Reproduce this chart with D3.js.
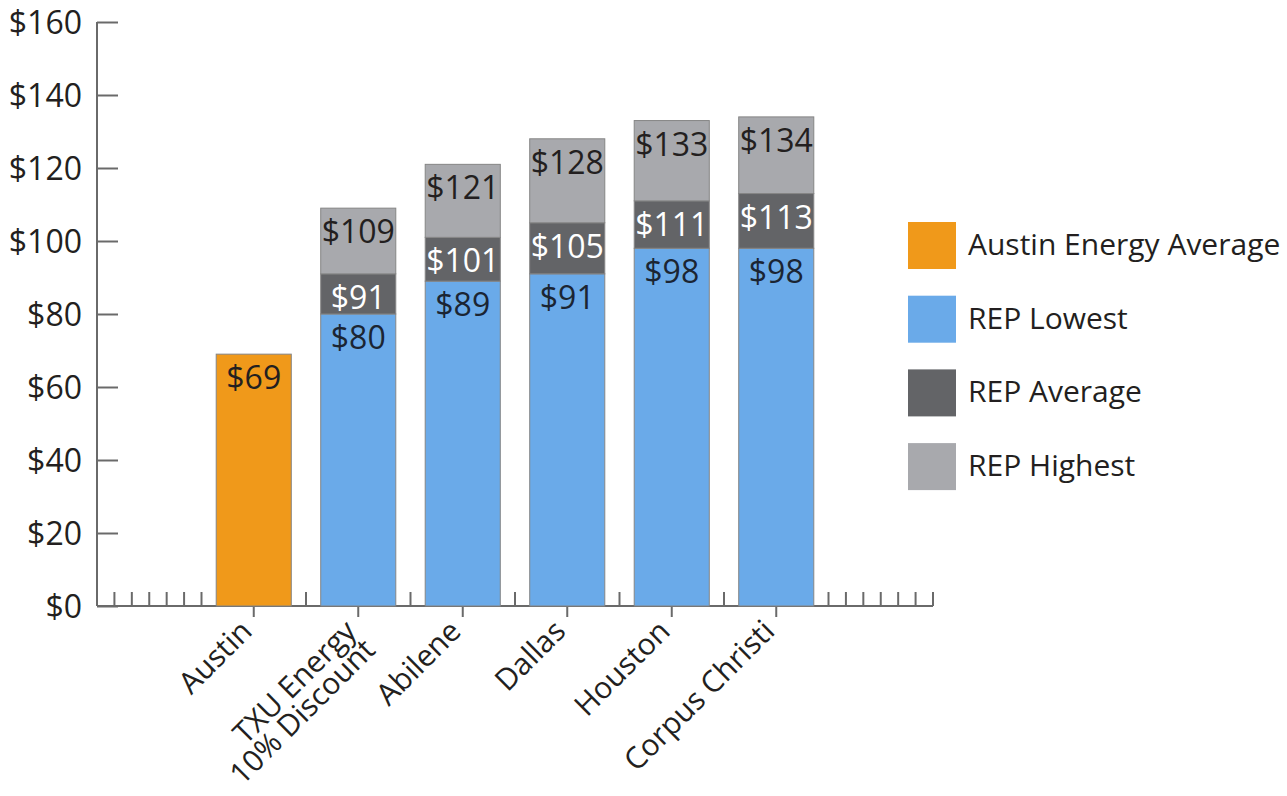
<!DOCTYPE html>
<html>
<head>
<meta charset="utf-8">
<script src="https://cdn.jsdelivr.net/npm/d3@7"></script>
<style>
  html, body { margin: 0; padding: 0; background: #fff; }
  svg { display: block; font-family: "Open Sans", "Noto Sans", sans-serif; }
</style>
</head>
<body>
<svg id="chart" width="1287" height="796"></svg>
<script>
// ---- data ----
const categories = ["Austin", "TXU Energy|10% Discount", "Abilene", "Dallas", "Houston", "Corpus Christi"];
const austinEnergyAverage = [69, null, null, null, null, null];
const repLowest  = [null, 80, 89, 91, 98, 98];
const repAverage = [null, 91, 101, 105, 111, 113];
const repHighest = [null, 109, 121, 128, 133, 134];
const yTicks = [0, 20, 40, 60, 80, 100, 120, 140, 160];
const legendLabels = ["Austin Energy Average", "REP Lowest", "REP Average", "REP Highest"];

// ---- styles ----
const colors = {
  austin: "#F0991A",
  low: "#6AAAE9",
  avg: "#636467",
  high: "#A8A9AD"
};
const legendColors = [colors.austin, colors.low, colors.avg, colors.high];
const axisColor = "#6a6a6a";
const textColor = "#231f20";

const svg = d3.select("#chart");

// ---- scales ----
const slot = d3.scaleLinear().domain([0, 48]).range([97, 933]);   // minor-tick grid on x axis
const x = d3.scaleBand().domain(categories)
  .range([slot(6), slot(42)])
  .paddingInner(0.2816).paddingOuter(0.1408);
const y = d3.scaleLinear().domain([0, 160]).range([606, 22]);

// ---- axes ----
// minor ticks on x axis (pointing up)
svg.append("g").selectAll("line").data(d3.range(1, 49)).join("line")
  .attr("x1", d => slot(d)).attr("x2", d => slot(d))
  .attr("y1", y(0)).attr("y2", y(0) - 14)
  .attr("stroke", axisColor).attr("stroke-width", 2);

// y axis
const yAxis = d3.axisRight(y).tickValues(yTicks).tickSize(21).tickFormat(() => "");
const gy = svg.append("g").attr("transform", `translate(${slot(0)},0)`).call(yAxis);
gy.select(".domain").attr("stroke", axisColor).attr("stroke-width", 2).attr("d", `M0,${y(160)}V${y(0)}`);
gy.selectAll(".tick line").attr("stroke", axisColor).attr("stroke-width", 2);
svg.append("g").selectAll("text").data(yTicks).join("text")
  .attr("x", 82).attr("y", d => y(d)).attr("dy", "0.36em")
  .attr("text-anchor", "end")
  .attr("font-size", 32).attr("fill", textColor)
  .text(d => "$" + d);

// x axis
const xAxis = d3.axisBottom(x).tickSize(11).tickFormat(() => "");
const gx = svg.append("g").attr("transform", `translate(0,${y(0)})`).call(xAxis);
gx.select(".domain").attr("stroke", axisColor).attr("stroke-width", 2).attr("d", `M${slot(0)},0H${slot(48)}`);
gx.selectAll(".tick line").attr("stroke", axisColor).attr("stroke-width", 2);

// x labels rotated
const xl = svg.append("g").selectAll("text").data(categories).join("text")
  .attr("transform", d => `translate(${x(d) + x.bandwidth() / 2},${y(0) + 27}) rotate(-45)`)
  .attr("text-anchor", "end")
  .attr("font-size", 30).attr("fill", textColor);
xl.each(function(d) {
  const lines = d.split("|");
  d3.select(this).selectAll("tspan").data(lines).join("tspan")
    .attr("x", 0).attr("dy", (l, i) => i === 0 ? 0 : "0.88em")
    .text(l => l);
});

// ---- bars ----
const bars = svg.append("g");
const segs = [];
categories.forEach((c, i) => {
  if (austinEnergyAverage[i] != null) segs.push({c, y0: 0, y1: austinEnergyAverage[i], fill: colors.austin, label: austinEnergyAverage[i], tc: textColor});
  if (repLowest[i] != null) {
    segs.push({c, y0: 0, y1: repLowest[i], fill: colors.low, label: repLowest[i], tc: "#1b2533"});
    segs.push({c, y0: repLowest[i], y1: repAverage[i], fill: colors.avg, label: repAverage[i], tc: "#ffffff"});
    segs.push({c, y0: repAverage[i], y1: repHighest[i], fill: colors.high, label: repHighest[i], tc: textColor});
  }
});
bars.selectAll("rect").data(segs).join("rect")
  .attr("x", d => x(d.c)).attr("width", x.bandwidth())
  .attr("y", d => y(d.y1)).attr("height", d => y(d.y0) - y(d.y1))
  .attr("fill", d => d.fill)
  .attr("stroke", "#858585").attr("stroke-width", 1);
bars.selectAll("text").data(segs).join("text")
  .attr("x", d => x(d.c) + x.bandwidth() / 2)
  .attr("y", d => y(d.y1) + 35)
  .attr("text-anchor", "middle")
  .attr("font-size", 32).attr("fill", d => d.tc)
  .text(d => "$" + d.label);

// ---- legend ----
const lg = svg.append("g").selectAll("g").data(legendLabels).join("g")
  .attr("transform", (d, i) => `translate(908,${222 + i * 73.7})`);
lg.append("rect").attr("width", 48).attr("height", 47).attr("fill", (d, i) => legendColors[i]);
lg.append("text").attr("x", 60).attr("y", 33)
  .attr("font-size", 30).attr("fill", textColor).text(d => d);
</script>
</body>
</html>
